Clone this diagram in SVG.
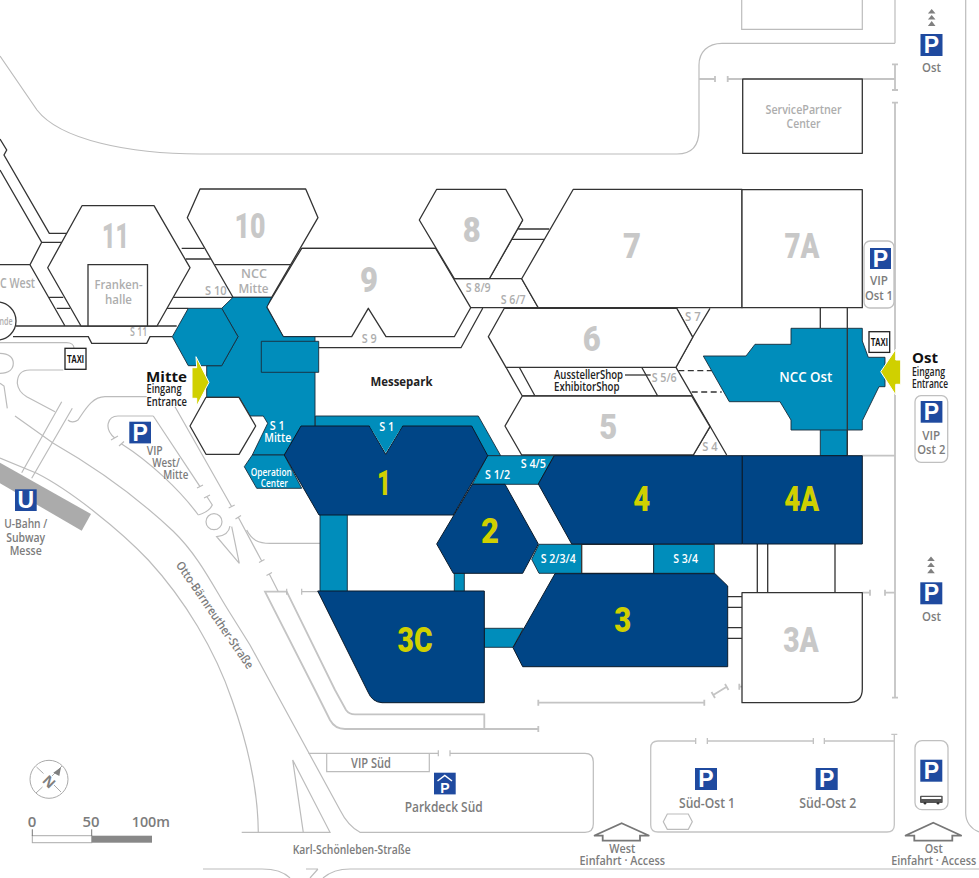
<svg xmlns="http://www.w3.org/2000/svg" width="979" height="878" viewBox="0 0 979 878">
<style>
text{font-family:"Open Sans","Noto Sans","Liberation Sans",sans-serif;text-anchor:middle}
.road{fill:none;stroke:#bcbcbc;stroke-width:1.2}
.roadt{fill:none;stroke:#c4c4c4;stroke-width:1.8}
.hall{fill:#fff;stroke:#333;stroke-width:1.3;stroke-linejoin:round}
.ln{fill:none;stroke:#333;stroke-width:1.3}
.mid{fill:#008dbb;stroke:#1a2b3a;stroke-width:.9;stroke-linejoin:round}
.dark{fill:#004586;stroke:#0a1a2a;stroke-width:1;stroke-linejoin:round}
.num{font-family:"Roboto","Liberation Sans",sans-serif;font-weight:900;font-size:35px;fill:#c8c8c8}
.numy{font-family:"Roboto","Liberation Sans",sans-serif;font-weight:900;font-size:35px;fill:#d0d000}
.s{font-size:12.5px;fill:#adadad;font-weight:600}
.w{font-size:12.5px;fill:#fff;font-weight:600}
.g{font-size:13px;fill:#7c7c7c;font-weight:600}
.k{font-size:12px;fill:#222;font-weight:600}
.h{font-size:15px;fill:#111;font-weight:700;text-anchor:start}
.st{text-anchor:start}
.sign{fill:#1f4a9f}
.p{font-family:"Liberation Sans",sans-serif;font-weight:700;font-size:23px;fill:#fff}
.box{fill:#fff;stroke:#c0c0c0;stroke-width:1.3}
.tx{font-family:"Liberation Sans",sans-serif;font-weight:700;font-size:10.5px;fill:#111}
.yl{fill:#d0d000;stroke:#fff;stroke-width:1}
.tri{fill:#808080}
.arr{fill:#fff;stroke:#777;stroke-width:1.8}
</style>
<g id="roads">
<path class="road" d="M0,56 L37,110 C60,140 130,154 200,154 L677,154 C690,154 699,147 699,130 L699,65 C699,52 708,43.3 722,43.3 L895,43.3 M895,0 V43.3"/>
<path class="road" d="M741.7,0 V29.3 H862.3 V0"/>
<path class="roadt" d="M699,79 H715 M715,76 V82 M727.7,76 V82 M727.7,79 H742 M862.3,79 H895 M895,64.3 V90 M892,64.3 H898 M892,90 H898 M895,102.7 V697.7 M892,102.7 H898 M892,697.7 H898 M862,455.7 H895 M862.3,592.7 H870 M870,589.7 V595.7 M885,589.7 V595.7 M885,592.7 H895"/>
<path class="road" d="M965.7,0 V813 C965.7,822 971,829 979,832"/>
<path class="roadt" d="M739.3,683.7 V689.7 M739.3,686.7 H742 M713.3,695 L726.7,686.7 M711.5,692 L715,698 M725,684 L728.5,690 M538.3,702.7 H704.3 M538.3,699.7 V705.7 M704.3,699.7 V705.7 M538.3,729 H345 Q335,729 330,720 L315,690 L265,591.7 H286.7 L335,690 L346,710 Q349,714.3 355,714.3 H484.3 V729 M538.3,726 V732"/>
<path class="road" d="M278.3,591.7 L269.3,574 M266.5,575.5 L272,572.5 M301.7,588.7 V594.7 M301.7,591.7 H318 M286.7,588.7 V594.7 M238.3,517.3 L261.7,561 M235.5,519 L241,515.5 M259,562.5 L264.5,559.5 M246.7,530 C252,540 258,543.3 270,543.3 H320"/>
<path class="road" d="M230,526 C229,533 224,536 216.7,536.7 L239.3,563.3 L231.7,526.7"/>
<circle class="road" cx="214" cy="521.7" r="8"/>
<path class="road" d="M175,406.7 L231.7,506.7 M228.7,508 L234.7,505 M207,496.7 L212.3,505 C210,510 205,513 198.3,515 M204,498 L210,495"/>
<path class="road" d="M153.3,416 H118 C108,416 103,428 115,438.3 M111,440 L118,436 M121.7,444 C150,462 180,490 198.3,515 M119,446 L124,441.5 M153.3,416 L200,486.7 M197,488 L203,485"/>
<path class="road" d="M146.7,396.7 H105 C92,396.7 85,410 78,420 C74,423 70,422 68,420"/>
<path class="road" d="M61.7,401.7 L21.7,472.7 M72.3,408.3 L31.7,478.3"/>
<path class="road" d="M0,342.7 H66.7 C71,342.7 74,345 74,348.3 M0,353.3 C9,353.3 13.3,358 13.3,363.3 C13.3,369 9,373.3 0,373.3 M63.3,370 H30 C20,370 17.3,376 17.3,383.3 C18,390 22,394 26.7,396.7 L55,411.7 M0,383.3 L4,386 L7.3,408.3"/>
<path class="road" d="M0,458 L36.7,473.3 C70,490 120,530 148.3,560 C185,600 215,650 232,700 C248,745 258,790 258.3,832.3"/>
<path class="road" d="M15,416 L53.3,443.3 C100,470 140,500 173,531 C200,557 215,590 230,613 L250,645 L340,810 Q348,826 360,832.3 H585 Q593.3,832.3 593.3,824 V761.7 Q593.3,753.3 585,753.3 H450 M450,750.3 V756.3 M438.3,750.3 V756.3 M438.3,753.3 H308.3 M326.7,753.3 V771.7 H429.3 V753.3"/>
<path class="road" d="M241.7,832.3 H330 L292.7,760 L303.3,832.3"/>
<path class="road" d="M203,869 H262 C275,869 285,873 290,878 M318,869 H306 M318,869 L310,878 M323,878 C330,872 340,869 350,869 H979"/>
<path class="road" d="M695.7,738 V744 M707.3,738 V744 M813.3,738 V744 M824.3,738 V744"/>
<path class="roadt" style="stroke-width:1.3" d="M695.7,741 H658 Q650.7,741 650.7,748 V825 Q650.7,832 658,832 H887 Q894.3,832 894.3,825 V734.3 M891.3,734.3 H897.3 M707.3,741 H813.3 M824.3,741 H894.3"/>
<path class="road" d="M663.3,821.7 L667.3,814 H688.3 L692.3,821.7 L688.3,829.3 H667.3 Z"/>
<polygon fill="#ababab" points="0,462.7 91,514 81.7,530.7 0,483.3"/>
</g>
<g id="connectors">
<path class="ln" d="M0,139 L6.7,150 L4,155 L49.3,233.3 H66.7 M0,170 L41.7,242.3 H61.7 M41.7,242.3 L30,264.7 L65,326 M0,264.7 H30 M49.3,297.3 H63.3 M56.7,308.3 H70 M181.7,248.3 H204 M185.7,259 H210.7 M171.7,297.3 H233 M166.7,308.3 H188.3 M15.7,326 H176.7 M13,336.7 H88.3 L91.7,343.3 H146.7 L150,336.7 H172.3"/>
<path class="ln" d="M301.7,248.3 H435.7"/>
<path class="ln" d="M318.7,347.7 H461 L482.7,308.3 M470.7,307.7 H538.3 L521.7,278.7 H454.3 M518.3,229 H549.3 M511.7,239.3 H544 M489.3,278.7 L522.7,220"/>
<path class="ln" d="M506,367.3 H676 M522.3,396 H691.7 M506,367.3 L522.3,396 M519.3,367.3 L535,396 M641.7,367.3 L657.7,396 M676,367.3 L726.7,455 M692.7,337.3 L676,367.3 M676.7,308.3 L692.7,337.3 L710,308.3"/>
<path class="ln" d="M693.3,455 L710,426.7"/>
<path class="ln" stroke-dasharray="6 3.5" d="M678.3,370.7 H711.7 M691.7,392 H721.7"/>
<path class="ln" d="M625,375 H650.7"/>
<path class="ln" d="M820.3,308 V328 M757.3,544 V592.7 M767.7,544 V592.7 M835,544 V592.7 M727.7,596.7 H742 M727.7,607.3 H742 M727.7,627.7 H742 M727.7,638.3 H742"/>
</g>
<g id="hall-11"><path class="hall" d="M82,205.7 H154 L190,267.7 L157,326 H81 L47.7,267.7 Z"/><path class="ln" d="M88,326 V264.7 H147.5 V326"/><text class="num" x="115.6" y="248" textLength="27" lengthAdjust="spacingAndGlyphs">11</text><text class="s" x="118.5" y="289" textLength="48" lengthAdjust="spacingAndGlyphs">Franken-</text><text class="s" x="118.5" y="304" textLength="27" lengthAdjust="spacingAndGlyphs">halle</text></g>
<g id="hall-10"><path class="hall" d="M200,189 H305.7 L318,217.7 L271.7,297.3 H233 L187.3,217.7 Z"/><path class="ln" d="M215,264.7 H291"/><text class="num" x="250" y="238.3" textLength="31" lengthAdjust="spacingAndGlyphs">10</text><text class="s" x="254" y="278.3" textLength="26" lengthAdjust="spacingAndGlyphs">NCC</text><text class="s" x="253.5" y="293.3" textLength="30" lengthAdjust="spacingAndGlyphs">Mitte</text></g>
<g id="hall-9"><path class="hall" d="M301.7,248.3 H435.7 L470.7,307.7 L454.3,336.7 H386 L368.3,308.3 L351.7,336.7 H283.3 L266.7,306.7 Z"/><text class="num" x="369" y="291.7" textLength="18" lengthAdjust="spacingAndGlyphs">9</text></g>
<g id="hall-8"><path class="hall" d="M436.7,189.3 H505.7 L522.7,220 L489.3,278.7 H454.3 L419.3,220 Z"/><text class="num" x="471.7" y="241.7" textLength="18" lengthAdjust="spacingAndGlyphs">8</text></g>
<g id="hall-7"><path class="hall" d="M573.3,189.3 H742 V307.7 H538.3 L521.7,278.7 Z"/><text class="num" x="632" y="258" textLength="18" lengthAdjust="spacingAndGlyphs">7</text></g>
<g id="hall-7a"><rect class="hall" x="742" y="189.7" width="120.3" height="118"/><text class="num" x="802" y="258" textLength="35" lengthAdjust="spacingAndGlyphs">7A</text></g>
<g id="hall-6"><path class="hall" d="M504.3,308.3 H676.7 L692.7,337.3 L676,367.3 H506 L488.3,336.7 Z"/><text class="num" x="591.7" y="351" textLength="18" lengthAdjust="spacingAndGlyphs">6</text></g>
<g id="hall-5"><path class="hall" d="M522.3,396 H691.7 L710,426.7 L693.3,455 H521.7 L505,426 Z"/><text class="num" x="608.3" y="439" textLength="18" lengthAdjust="spacingAndGlyphs">5</text></g>
<g id="service-partner"><rect x="742.7" y="79" width="119.6" height="74.3" class="hall"/><text class="s" x="803.5" y="114.3" textLength="76" lengthAdjust="spacingAndGlyphs">ServicePartner</text><text class="s" x="803.5" y="127.7" textLength="34" lengthAdjust="spacingAndGlyphs">Center</text></g>
<g id="ncc-ost"><rect class="mid" x="820.3" y="425" width="27" height="30.7"/><path class="mid" d="M703.3,356 H746 L755,344.3 H791 V328.3 H862.3 V341 L868.3,357.3 H885 V386.7 H879 L862.3,420.7 V430 H791 V420 L780,401.7 H729.3 Z"/><path class="ln" d="M847.3,308 V455"/><text class="w" x="805.8" y="381.7" style="font-size:14px" textLength="53" lengthAdjust="spacingAndGlyphs">NCC Ost</text></g>
<g id="ncc-mitte"><path class="mid" d="M233,297.3 H271.7 L266.7,307.3 L283.3,336.7 H315 V426.7 H301.7 L284.3,455 H252.3 L267.7,423.3 L263.3,416 H250 L239,397.3 H206.7 V365.7 H221.7 L238,336.7 L221.7,308.3 Z"/><rect class="mid" x="261.3" y="341.3" width="57.4" height="31"/><path class="mid" d="M188.3,308.3 H221.7 L238,336.7 L221.7,365.7 H188.3 L172.3,336.7 Z"/><path class="mid" d="M252.3,455 H284.3 L301.7,488.3 H256.7 L244.3,466.7 Z"/><text class="w" x="277.3" y="430" textLength="15" lengthAdjust="spacingAndGlyphs">S 1</text><text class="w" x="277.7" y="441.7" textLength="27" lengthAdjust="spacingAndGlyphs">Mitte</text><text class="w" x="271.3" y="476" style="font-size:11px" textLength="41" lengthAdjust="spacingAndGlyphs">Operation</text><text class="w" x="274.3" y="486.7" style="font-size:11px" textLength="27" lengthAdjust="spacingAndGlyphs">Center</text></g>
<g id="white-hex"><path class="hall" d="M206,397.3 H239 L255.7,426 L239,454.3 H206 L190,426 Z"/></g>
<g id="s-corridors"><path class="mid" d="M315.3,416 H478.3 L500.7,455.7 H480 L470,430 H315.3 Z"/><rect class="mid" x="320" y="510" width="27.3" height="85"/><rect class="mid" x="454.3" y="570" width="10" height="24"/><path class="mid" d="M484.3,628.3 H523.3 L513,647.3 H484.3 Z"/><path class="mid" d="M487.5,455.7 H554 L538.3,484.3 H472.3 Z"/><path class="mid" d="M539,544.3 H581.7 V573.3 H539 L531.7,559.3 Z"/><rect x="581.7" y="544.3" width="72" height="29" class="hall"/><rect class="mid" x="653.7" y="544.3" width="60.6" height="29"/></g>
<g id="hall-1"><path class="dark" d="M301,426 H369.3 L385.7,454.3 L402.7,426 H471.7 L487.7,455.7 L453.3,515 H319 L284.3,455 Z"/><path fill="#008dbb" d="M369.9,426.6 H402 L385.7,453 Z"/><text class="numy" x="384" y="495" textLength="14" lengthAdjust="spacingAndGlyphs">1</text></g>
<g id="hall-2"><path class="dark" d="M472.3,484.3 H505 L538.3,544 L522.7,573.3 H453.3 L436.7,544 Z"/><text class="numy" x="490" y="542.7" textLength="18" lengthAdjust="spacingAndGlyphs">2</text></g>
<g id="hall-3c"><path class="dark" d="M317.7,591 H484.3 V702.7 H382 Q372,702 368,692 Z"/><text class="numy" x="415" y="651.7" textLength="35" lengthAdjust="spacingAndGlyphs">3C</text></g>
<g id="hall-3"><path class="dark" d="M555,573.7 H715 L727.7,586 V666.7 H522.7 L513,647.7 Z"/><text class="numy" x="622.7" y="632.3" textLength="17" lengthAdjust="spacingAndGlyphs">3</text></g>
<g id="hall-4"><path class="dark" d="M554.3,455.7 H742.3 V544 H571.7 L538.3,484 Z"/><text class="numy" x="641.7" y="510.7" textLength="17" lengthAdjust="spacingAndGlyphs">4</text></g>
<g id="hall-4a"><rect class="dark" x="742.3" y="455.7" width="120" height="88.3"/><text class="numy" x="801.7" y="510.7" textLength="35" lengthAdjust="spacingAndGlyphs">4A</text></g>
<g id="hall-3a"><path class="hall" d="M742,592.7 H862.3 V689 Q862.3,702.7 848,702.7 H742 Z"/><text class="num" x="801" y="652.3" textLength="35.5" lengthAdjust="spacingAndGlyphs">3A</text></g>
<g id="rotunde"><circle class="hall" cx="-3" cy="321" r="19"/><text class="s" x="6" y="325" style="font-size:11px" textLength="13" lengthAdjust="spacingAndGlyphs">nde</text></g>
<g id="labels">
<text class="s st" x="0" y="287.7" style="font-size:14px" textLength="35" lengthAdjust="spacingAndGlyphs">C West</text>
<text class="s st" x="205" y="295" textLength="21.7" lengthAdjust="spacingAndGlyphs">S 10</text>
<text class="s st" x="130" y="336" textLength="17.3" lengthAdjust="spacingAndGlyphs">S 11</text>
<text class="s" x="369.3" y="343.3" textLength="15" lengthAdjust="spacingAndGlyphs">S 9</text>
<text class="s st" x="465.7" y="291.7" textLength="25" lengthAdjust="spacingAndGlyphs">S 8/9</text>
<text class="s st" x="500.7" y="304" textLength="25" lengthAdjust="spacingAndGlyphs">S 6/7</text>
<text class="s st" x="685" y="321" textLength="15.7" lengthAdjust="spacingAndGlyphs">S 7</text>
<text class="s st" x="651.7" y="381.7" textLength="25" lengthAdjust="spacingAndGlyphs">S 5/6</text>
<text class="s st" x="702.3" y="450.7" textLength="15.4" lengthAdjust="spacingAndGlyphs">S 4</text>
<text class="w" x="386.7" y="430.7" textLength="15" lengthAdjust="spacingAndGlyphs">S 1</text>
<text class="w st" x="520.7" y="467.7" textLength="25.3" lengthAdjust="spacingAndGlyphs">S 4/5</text>
<text class="w st" x="485" y="479" textLength="25" lengthAdjust="spacingAndGlyphs">S 1/2</text>
<text class="w st" x="540.7" y="562.7" textLength="35" lengthAdjust="spacingAndGlyphs">S 2/3/4</text>
<text class="w st" x="673.3" y="562.7" textLength="24.7" lengthAdjust="spacingAndGlyphs">S 3/4</text>
<text class="k" x="401.5" y="386" style="font-size:13px;font-weight:700" textLength="62" lengthAdjust="spacingAndGlyphs">Messepark</text>
<text class="k st" x="554" y="379.3" textLength="69" lengthAdjust="spacingAndGlyphs">AusstellerShop</text>
<text class="k st" x="554" y="391" textLength="65.5" lengthAdjust="spacingAndGlyphs">ExhibitorShop</text>
<text class="g" x="371" y="767.7" style="font-size:14px" textLength="40" lengthAdjust="spacingAndGlyphs">VIP Süd</text>
<text class="g" x="443.7" y="812.3" style="font-size:15px" textLength="78" lengthAdjust="spacingAndGlyphs">Parkdeck Süd</text>
<text class="g st" x="292.7" y="854" style="font-size:12px" textLength="118" lengthAdjust="spacingAndGlyphs">Karl-Schönleben-Straße</text>
<text class="g st" transform="translate(175.500,565) rotate(55.500)" style="font-size:12px" textLength="127" lengthAdjust="spacingAndGlyphs">Otto-Bärnreuther-Straße</text>
<text class="g st" x="146.7" y="455" textLength="16" lengthAdjust="spacingAndGlyphs">VIP</text>
<text class="g st" x="152.3" y="467.3" textLength="27.5" lengthAdjust="spacingAndGlyphs">West/</text>
<text class="g st" x="163.3" y="479" textLength="25" lengthAdjust="spacingAndGlyphs">Mitte</text>
<text class="g" x="25.7" y="527.7" textLength="43" lengthAdjust="spacingAndGlyphs">U-Bahn /</text>
<text class="g" x="25.7" y="541.7" textLength="39" lengthAdjust="spacingAndGlyphs">Subway</text>
<text class="g" x="25.7" y="555" textLength="32" lengthAdjust="spacingAndGlyphs">Messe</text>
</g>
<g id="entrance-mitte"><polygon class="yl" points="196,356.7 209,382.3 196.7,406 196.7,398.3 192,398.3 192,367.7 196.7,367.7"/><text class="h" x="146" y="381.7" textLength="41" lengthAdjust="spacingAndGlyphs">Mitte</text><text class="k st" x="146.5" y="393.3" textLength="35" lengthAdjust="spacingAndGlyphs">Eingang</text><text class="k st" x="146.5" y="405.7" textLength="40.5" lengthAdjust="spacingAndGlyphs">Entrance</text></g>
<g id="entrance-ost"><polygon class="yl" points="895.7,349.3 880.7,371.7 895.7,395 895.7,384.3 900.7,384.3 900.7,360 895.7,360"/><text class="h" x="912" y="363.3" textLength="26" lengthAdjust="spacingAndGlyphs">Ost</text><text class="k st" x="912" y="376" textLength="33" lengthAdjust="spacingAndGlyphs">Eingang</text><text class="k st" x="912" y="388.3" textLength="36" lengthAdjust="spacingAndGlyphs">Entrance</text></g>
<g id="taxi-mitte"><rect x="65" y="348.3" width="21" height="21" fill="#fff" stroke="#222" stroke-width="1.3"/><text class="tx" x="75.5" y="362.5" textLength="17" lengthAdjust="spacingAndGlyphs">TAXI</text></g>
<g id="taxi-ost"><rect x="869" y="331.7" width="20.7" height="20.7" fill="#fff" stroke="#222" stroke-width="1.3"/><text class="tx" x="879.3" y="346" textLength="17" lengthAdjust="spacingAndGlyphs">TAXI</text></g>
<g id="p-ost-top"><path class="tri" d="M931.7,9 L935.5,13.5 H927.9 Z M931.7,15 L935.5,19.5 H927.9 Z M931.7,21 L935.5,26 H927.9 Z"/><rect class="sign" x="920.5" y="34" width="22" height="22"/><text class="p" x="931.5" y="53">P</text><text class="g" x="931.5" y="72" textLength="19" lengthAdjust="spacingAndGlyphs">Ost</text></g>
<g id="p-vip-ost1"><rect class="box" x="864" y="241" width="30" height="67" rx="6"/><rect class="sign" x="870" y="248" width="21" height="21"/><text class="p" x="880.500" y="267">P</text><text class="g" x="879" y="285" textLength="18" lengthAdjust="spacingAndGlyphs">VIP</text><text class="g" x="879" y="300" textLength="28" lengthAdjust="spacingAndGlyphs">Ost 1</text></g>
<g id="p-vip-ost2"><rect class="box" x="915" y="395.7" width="32.7" height="66.6" rx="6"/><rect class="sign" x="920.7" y="401" width="21.7" height="21.7"/><text class="p" x="931.5" y="420">P</text><text class="g" x="931.3" y="440" textLength="18" lengthAdjust="spacingAndGlyphs">VIP</text><text class="g" x="931.3" y="454" textLength="28" lengthAdjust="spacingAndGlyphs">Ost 2</text></g>
<g id="p-ost"><path class="tri" d="M931,556.5 L934.8,561 H927.2 Z M931,562.5 L934.8,567 H927.2 Z M931,568.5 L934.8,573.3 H927.2 Z"/><rect class="sign" x="920.3" y="582.3" width="22" height="22"/><text class="p" x="931.3" y="601.3">P</text><text class="g" x="931.5" y="620.7" textLength="19" lengthAdjust="spacingAndGlyphs">Ost</text></g>
<g id="p-sued-ost1"><rect class="sign" x="695" y="768" width="22" height="22"/><text class="p" x="706" y="787">P</text><text class="g" x="707" y="808" style="font-size:14px" textLength="56" lengthAdjust="spacingAndGlyphs">Süd-Ost 1</text></g>
<g id="p-sued-ost2"><rect class="sign" x="815.7" y="768" width="22" height="22"/><text class="p" x="826.7" y="787">P</text><text class="g" x="827.7" y="808" style="font-size:14px" textLength="57" lengthAdjust="spacingAndGlyphs">Süd-Ost 2</text></g>
<g id="p-bus"><rect class="box" x="915" y="740.7" width="33" height="69" rx="7"/><rect class="sign" x="920.3" y="759.7" width="22" height="22"/><text class="p" x="931.3" y="778.7">P</text><rect x="920" y="795.7" width="22.7" height="7.2" rx="1" fill="#555"/><rect x="921.5" y="797" width="19.7" height="2" fill="#fff"/><circle cx="925" cy="803.3" r="1.3" fill="#333"/><circle cx="938" cy="803.3" r="1.3" fill="#333"/></g>
<g id="p-vip-mitte"><rect class="sign" x="129.3" y="421.7" width="21.7" height="21.7"/><text class="p" x="140.1" y="440.5">P</text></g>
<g id="u-bahn"><rect class="sign" x="15" y="489.3" width="21.7" height="21.7"/><text class="p" x="25.8" y="508">U</text></g>
<g id="parkdeck"><rect class="sign" x="434" y="772.7" width="21.7" height="21.7"/><path d="M437.5,781 L444.8,775.5 L452,781" fill="none" stroke="#fff" stroke-width="1.5"/><text class="p" x="445" y="792.5" style="font-size:14px">P</text></g>
<g id="access-west"><polygon class="arr" points="621.7,823.3 649.3,835.7 640,835.7 640,840.7 602.7,840.7 602.7,835.7 594,835.7"/><text class="g" x="622.3" y="852.7" textLength="26" lengthAdjust="spacingAndGlyphs">West</text><text class="g" x="622.3" y="865" textLength="85.5" lengthAdjust="spacingAndGlyphs">Einfahrt · Access</text></g>
<g id="access-ost"><polygon class="arr" points="933.3,822.7 961.7,835.7 952.3,835.7 952.3,840.7 914.3,840.7 914.3,835.7 905,835.7"/><text class="g" x="933.7" y="852.7" textLength="18" lengthAdjust="spacingAndGlyphs">Ost</text><text class="g" x="933.7" y="865" textLength="85" lengthAdjust="spacingAndGlyphs">Einfahrt · Access</text></g>
<g id="compass"><circle cx="49" cy="779.3" r="19" fill="#fff" stroke="#aaa" stroke-width="1"/><path d="M36.500,767 L43.500,773.500 M54,785 L61,792 M36,793 L42.500,787 M52,776 L62,766" stroke="#aaa" stroke-width="1" fill="none"/><polygon class="tri" points="61,767.300 53.300,772.700 59.300,776"/><text transform="translate(49,781.700) rotate(45)" y="5" style="font-size:14px;font-weight:700;fill:#808080">N</text></g>
<g id="scale"><rect x="32.300" y="835.700" width="59.400" height="7" fill="#fff" stroke="#aaa" stroke-width="1"/><rect x="91.700" y="835.700" width="60.300" height="7" fill="#888"/><path d="M32.300,829.300 V836 M91.700,829.300 V836" stroke="#777" stroke-width="1"/><text class="g" x="32" y="827.300" style="font-size:15px">0</text><text class="g" x="91" y="827.300" style="font-size:15px" textLength="17" lengthAdjust="spacingAndGlyphs">50</text><text class="g st" x="131.700" y="827.300" style="font-size:15px" textLength="38.300" lengthAdjust="spacingAndGlyphs">100m</text></g>
</svg>
